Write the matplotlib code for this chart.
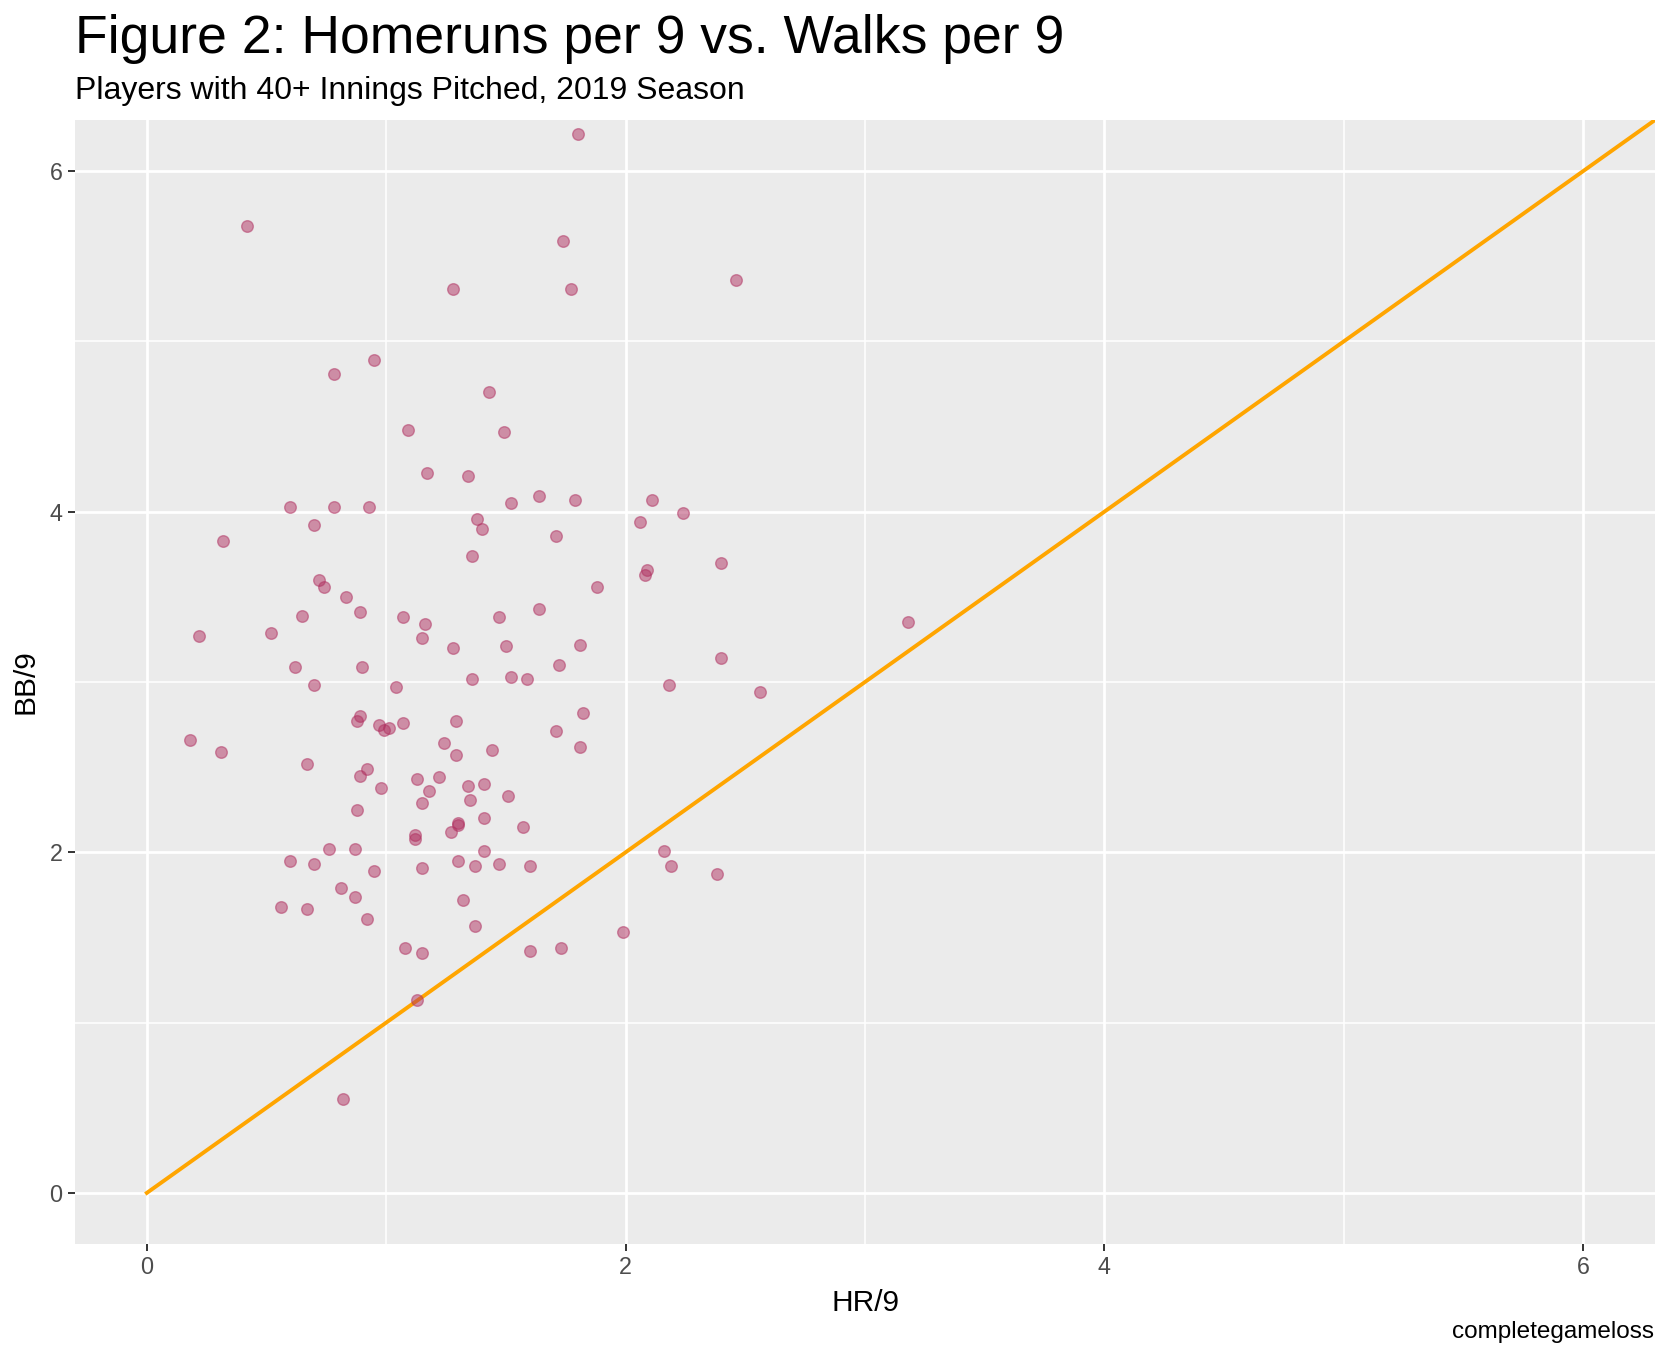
import matplotlib
matplotlib.use("Agg")
import matplotlib.pyplot as plt
import numpy as np

plt.rcParams['font.family'] = ['Liberation Sans', 'DejaVu Sans']

# HR/9 and BB/9, pitchers with 40+ IP (2019)
hr9 = [1.80, 0.42, 1.74, 1.28, 1.77, 0.95, 0.78, 1.43, 1.09, 1.49,
       1.17, 1.34, 1.52, 1.64, 1.79, 2.11, 2.24, 2.06, 0.60, 0.78,
       0.93, 0.70, 1.38, 1.40, 1.71, 0.32,
       1.36, 2.40, 2.09, 2.08, 1.88, 0.72, 0.74, 0.83, 0.89, 0.65,
       1.64, 1.07, 1.47, 1.16, 0.22, 0.52, 1.15, 1.28, 1.50, 1.81,
       2.40, 0.62, 0.90, 1.72, 1.36, 1.52, 1.59, 0.70, 1.04, 2.18,
       1.82, 0.89, 0.88, 0.97, 0.99, 1.01, 1.07, 1.29, 1.71, 0.18,
       0.31, 1.24, 1.29, 1.44, 1.81, 0.67, 0.92, 0.89, 0.98, 1.13,
       1.22, 1.18, 1.34, 1.41, 1.51, 1.15, 1.35, 0.88, 1.41, 1.57,
       1.30, 1.30, 1.27, 1.12, 1.12,
       0.76, 0.87, 1.41, 2.16, 0.60, 0.70, 0.95, 1.15, 1.30, 1.37,
       1.47, 1.60, 2.19, 2.38, 0.81, 0.87, 0.56, 0.67, 0.92, 1.32,
       1.37, 1.99, 1.08, 1.15, 1.60, 1.73, 1.13,
       0.82, 2.46, 2.56, 3.18]
bb9 = [6.22, 5.68, 5.59, 5.31, 5.31, 4.89, 4.81, 4.70, 4.48, 4.47,
       4.23, 4.21, 4.05, 4.09, 4.07, 4.07, 3.99, 3.94, 4.03, 4.03,
       4.03, 3.92, 3.96, 3.90, 3.86, 3.83,
       3.74, 3.70, 3.66, 3.63, 3.56, 3.60, 3.56, 3.50, 3.41, 3.39,
       3.43, 3.38, 3.38, 3.34, 3.27, 3.29, 3.26, 3.20, 3.21, 3.22,
       3.14, 3.09, 3.09, 3.10, 3.02, 3.03, 3.02, 2.98, 2.97, 2.98,
       2.82, 2.80, 2.77, 2.75, 2.72, 2.73, 2.76, 2.77, 2.71, 2.66,
       2.59, 2.64, 2.57, 2.60, 2.62, 2.52, 2.49, 2.45, 2.38, 2.43,
       2.44, 2.36, 2.39, 2.40, 2.33, 2.29, 2.31, 2.25, 2.20, 2.15,
       2.17, 2.16, 2.12, 2.10, 2.08,
       2.02, 2.02, 2.01, 2.01, 1.95, 1.93, 1.89, 1.91, 1.95, 1.92,
       1.93, 1.92, 1.92, 1.87, 1.79, 1.74, 1.68, 1.67, 1.61, 1.72,
       1.57, 1.53, 1.44, 1.41, 1.42, 1.44, 1.13,
       0.55, 5.36, 2.94, 3.35]

W, H = 1666, 1356
fig = plt.figure(figsize=(W / 100, H / 100), dpi=100)
ax = fig.add_axes([75 / W, 1 - 1244 / H, (1655 - 75) / W, (1244 - 120) / H])

ax.set_facecolor('#EBEBEB')
for s in ax.spines.values():
    s.set_visible(False)

ax.set_xlim(-0.3, 6.3)
ax.set_ylim(-0.3, 6.3)
ax.set_xticks([0, 2, 4, 6])
ax.set_yticks([0, 2, 4, 6])
ax.set_xticks([1, 3, 5], minor=True)
ax.set_yticks([1, 3, 5], minor=True)
ax.grid(which='major', color='white', linewidth=1.95)
ax.grid(which='minor', color='white', linewidth=1.15)
ax.set_axisbelow(True)
ax.tick_params(which='major', length=4.9, width=1.4, color='#333333',
               labelsize=16.8, labelcolor='#4D4D4D')
ax.tick_params(axis='x', which='major', pad=3.6)
ax.tick_params(axis='y', which='major', pad=4.2)
ax.tick_params(which='minor', length=0)

# y = x reference line
ref = np.array([0, 6.3])
ax.plot(ref, ref, color='#FFA500', linewidth=2.8, zorder=2)

ax.scatter(hr9, bb9, s=70, facecolor=(0.69, 0.19, 0.376, 0.5),
           edgecolor=(0.69, 0.19, 0.376, 0.5), linewidth=1.0, zorder=3)

fig.text(75 / W, 1 - 53.3 / H, 'Figure 2: Homeruns per 9 vs. Walks per 9',
         fontsize=38.5, ha='left', va='baseline')
fig.text(75 / W, 1 - 99.3 / H, 'Players with 40+ Innings Pitched, 2019 Season',
         fontsize=23.0, ha='left', va='baseline')
fig.text(865 / W, 1 - 1310.7 / H, 'HR/9', fontsize=21.5, ha='center', va='baseline')
fig.text(25.5 / W, 1 - 682 / H, 'BB/9', fontsize=21.5, rotation=90,
         ha='center', va='center')
fig.text(1654 / W, 1 - 1338 / H, 'completegameloss', fontsize=17.5,
         ha='right', va='baseline')

fig.savefig('out.png', dpi=100, facecolor='white')
